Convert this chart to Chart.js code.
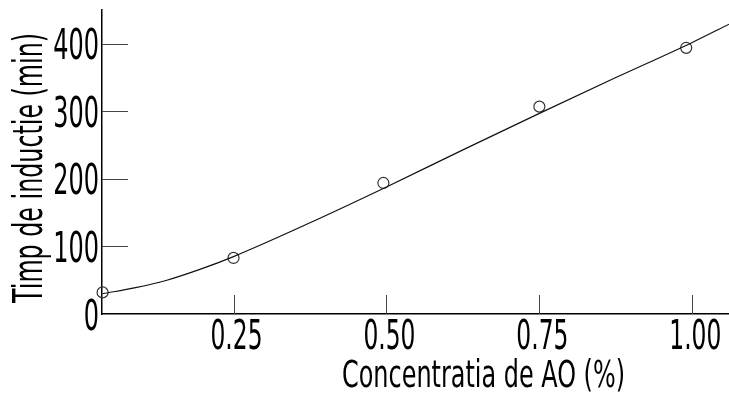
<!DOCTYPE html>
<html>
<head>
<meta charset="utf-8">
<script src="https://cdn.jsdelivr.net/npm/chart.js@4/dist/chart.umd.min.js"></script>
<style>
  html, body { margin: 0; padding: 0; background: #fff; }
  #wrap { width: 729px; height: 398px; position: relative; }
</style>
</head>
<body>
<div id="wrap"><canvas id="chart"></canvas></div>
<script>
const fontName = "'DejaVu Sans', sans-serif";

// masuratori (cercuri)
const measX = [0.036, 0.25, 0.495, 0.75, 0.99];
const measY = [32, 83, 194, 307, 394];

// curba trasata prin puncte
const fitX = [0.036, 0.09, 0.141, 0.195, 0.25, 0.375, 0.5, 0.625, 0.75, 0.875, 1.0, 1.06];
const fitY = [30, 39, 50, 66, 85, 135, 188, 243, 297, 350, 402, 429];

const xTicks = [0.25, 0.50, 0.75, 1.00];
const yTicks = [0, 100, 200, 300, 400];

const xTitle = 'Concentratia de AO (%)';
const yTitle = 'Timp de inductie (min)';

// textul original are un font foarte ingust, il comprimam pe orizontala
function narrowText(ctx, text, x, y, size, sx, align) {
    ctx.save();
    ctx.font = size + 'px ' + fontName;
    const w = ctx.measureText(text).width * sx;
    let left = x;
    if (align === 'right') left = x - w;
    if (align === 'center') left = x - w / 2;
    ctx.translate(left, y);
    ctx.scale(sx, 1);
    ctx.textAlign = 'left';
    ctx.textBaseline = 'alphabetic';
    ctx.fillText(text, 0, 0);
    ctx.restore();
}

const axisDecor = {
    id: 'axisDecor',
    afterDraw(chart) {
        const { ctx, scales: { x, y }, chartArea } = chart;
        ctx.save();
        // liniutele sunt trase spre interior
        ctx.strokeStyle = '#444';
        ctx.lineWidth = 1;
        yTicks.forEach(v => {
            if (v === 0) return;
            const py = Math.round(y.getPixelForValue(v)) + 0.5;
            ctx.beginPath();
            ctx.moveTo(chartArea.left, py);
            ctx.lineTo(chartArea.left + 26, py);
            ctx.stroke();
        });
        xTicks.forEach(v => {
            const px = Math.round(x.getPixelForValue(v)) + 0.5;
            ctx.beginPath();
            ctx.moveTo(px, chartArea.bottom);
            ctx.lineTo(px, chartArea.bottom - 19);
            ctx.stroke();
        });

        ctx.fillStyle = '#000';
        yTicks.forEach(v => {
            narrowText(ctx, String(v), chartArea.left - 3, y.getPixelForValue(v) + 15.5, 42, 0.57, 'right');
        });
        xTicks.forEach(v => {
            narrowText(ctx, v.toFixed(2), x.getPixelForValue(v) + 3, chartArea.bottom + 35, 41, 0.57, 'center');
        });

        // titlul axei x
        ctx.font = '37px ' + fontName;
        const wx = ctx.measureText(xTitle).width;
        narrowText(ctx, xTitle, 342, 387, 37, 283 / wx, 'left');

        // titlul axei y, rotit
        ctx.font = '40px ' + fontName;
        const wy = ctx.measureText(yTitle).width;
        ctx.save();
        ctx.translate(42, (chartArea.top + chartArea.bottom) / 2 + 6);
        ctx.rotate(-Math.PI / 2);
        narrowText(ctx, yTitle, 0, 0, 40, 270 / wy, 'center');
        ctx.restore();
        ctx.restore();
    }
};

new Chart(document.getElementById('chart'), {
    type: 'scatter',
    data: {
        datasets: [
            {
                data: fitX.map((v, i) => ({ x: v, y: fitY[i] })),
                showLine: true,
                borderColor: '#111',
                borderWidth: 1.2,
                pointRadius: 0,
                pointHoverRadius: 0,
                cubicInterpolationMode: 'monotone',
                clip: false
            },
            {
                data: measX.map((v, i) => ({ x: v, y: measY[i] })),
                showLine: false,
                pointRadius: 5.5,
                pointBorderWidth: 1.2,
                pointBorderColor: '#333',
                pointBackgroundColor: 'rgba(0,0,0,0)',
                clip: false
            }
        ]
    },
    options: {
        responsive: true,
        maintainAspectRatio: false,
        animation: false,
        layout: { autoPadding: false, padding: { top: 10, right: 0, left: 0, bottom: 0 } },
        plugins: { legend: { display: false }, tooltip: { enabled: false } },
        scales: {
            x: {
                type: 'linear',
                min: 0.035,
                max: 1.06,
                afterFit: s => { s.height = 84; },
                grid: { display: false, drawTicks: false },
                border: { color: '#000', width: 1.5 },
                ticks: { display: false }
            },
            y: {
                min: 0,
                max: 450,
                afterFit: s => { s.width = 102; },
                grid: { display: false, drawTicks: false },
                border: { color: '#000', width: 1.5 },
                ticks: { display: false }
            }
        }
    },
    plugins: [axisDecor]
});
</script>
</body>
</html>
